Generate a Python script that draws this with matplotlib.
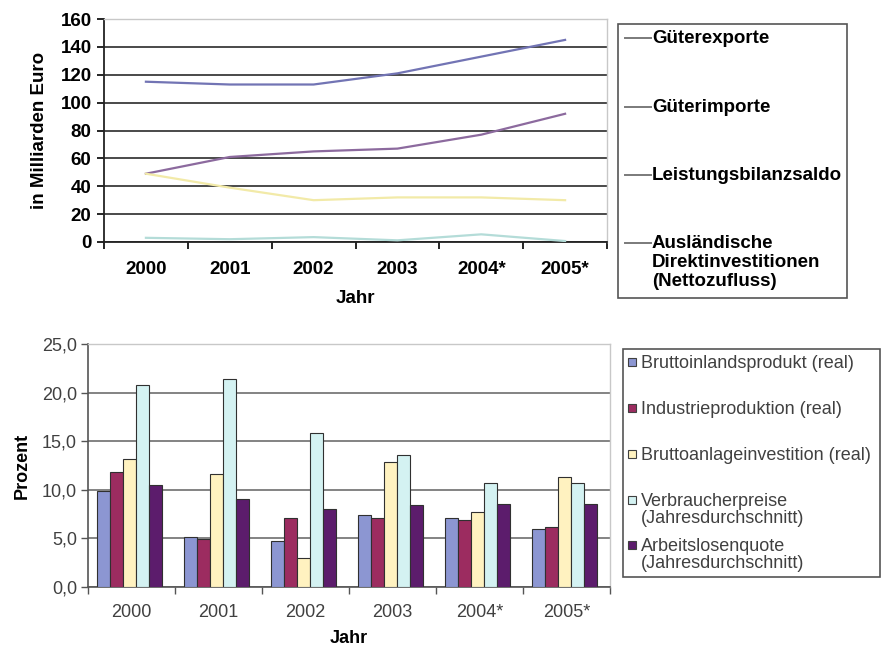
import numpy as np
import matplotlib

matplotlib.use('Agg')
import matplotlib.pyplot as plt
from matplotlib.lines import Line2D
from matplotlib.patches import Rectangle

plt.rcParams['font.family'] = ['Liberation Sans', 'DejaVu Sans']

W, H = 881, 648

years = ['2000', '2001', '2002', '2003', '2004*', '2005*']

# Upper chart, billions of euro
line_labels = ['Güterexporte', 'Güterimporte', 'Leistungsbilanzsaldo',
               'Ausländische\nDirektinvestitionen\n(Nettozufluss)']
gueterexporte = [115, 113, 113, 121, 133, 145]
gueterimporte = [49, 61, 65, 67, 77, 92]
leistungsbilanz = [49, 39, 30, 32, 32, 30]
direktinvest = [3, 2, 3.5, 1.2, 5.5, 0.7]
line_colors = ['#7274b4', '#8c6a9e', '#f2eaa8', '#b4dcd8']

# Lower chart, percent
bar_labels = ['Bruttoinlandsprodukt (real)', 'Industrieproduktion (real)',
              'Bruttoanlageinvestition (real)',
              'Verbraucherpreise\n(Jahresdurchschnitt)',
              'Arbeitslosenquote\n(Jahresdurchschnitt)']
bip = [9.9, 5.1, 4.7, 7.4, 7.1, 6.0]
industrie = [11.8, 4.9, 7.1, 7.1, 6.9, 6.2]
bruttoanlage = [13.2, 11.6, 3.0, 12.9, 7.7, 11.3]
verbraucher = [20.8, 21.4, 15.8, 13.6, 10.7, 10.7]
arbeitslosen = [10.5, 9.1, 8.0, 8.4, 8.5, 8.5]
bar_colors = ['#8c96d2', '#9c2c60', '#fff2c0', '#d4f2f2', '#5c1c6c']

FS_TOP = 13.5
FS_BOT = 13


def fx(px):
    return px / W


def fy(py):
    return 1 - py / H


fig = plt.figure(figsize=(W / 100, H / 100), dpi=100, facecolor='w')
x = np.arange(len(years))

# ---- line chart ----
ax1 = fig.add_axes([fx(104), fy(242), (607 - 104) / W, (242 - 19) / H])
series = [gueterexporte, gueterimporte, leistungsbilanz, direktinvest]
for vals, c in zip(series, line_colors):
    ax1.plot(x, vals, color=c, lw=1.6, zorder=3)

ax1.set_xlim(-0.5, 5.5)
ax1.set_ylim(0, 160)
ax1.set_yticks(range(0, 161, 20))
ax1.set_xticks(x)
ax1.set_xticklabels(years)
ax1.set_xticks(np.arange(-0.5, 6, 1), minor=True)
ax1.tick_params(axis='x', which='major', length=0, pad=14, labelsize=FS_TOP)
ax1.tick_params(axis='x', which='minor', length=5, width=1.2, direction='out')
ax1.tick_params(axis='y', length=5, width=1.2, labelsize=FS_TOP, pad=4)
for lab in ax1.get_xticklabels() + ax1.get_yticklabels():
    lab.set_fontweight('bold')
ax1.yaxis.grid(True, color='#4a4a4a', lw=1.4)
ax1.set_axisbelow(True)
for s in ['top', 'right']:
    ax1.spines[s].set_color('#c8c8c8')
    ax1.spines[s].set_linewidth(1.0)
for s in ['left', 'bottom']:
    ax1.spines[s].set_color('#222222')
    ax1.spines[s].set_linewidth(1.3)
ax1.set_xlabel('Jahr', fontsize=FS_TOP, fontweight='bold', labelpad=8)
ax1.set_ylabel('in Milliarden Euro', fontsize=FS_TOP, fontweight='bold', labelpad=9)

# legend of the line chart
fig.patches.append(Rectangle((fx(618), fy(298)), (847 - 618) / W, (298 - 24) / H,
                             transform=fig.transFigure, fill=False,
                             edgecolor='#555555', lw=1.2))
for lab, c, py in zip(line_labels, line_colors, [38, 107, 175, 243]):
    fig.lines.append(Line2D([fx(625), fx(651)], [fy(py), fy(py)],
                            transform=fig.transFigure, color='#7a7a7a', lw=1.4))
    fig.text(fx(652), fy(py - 8), lab, fontsize=FS_TOP, fontweight='bold',
             va='top', ha='left', linespacing=1.15)

# ---- bar chart ----
ax2 = fig.add_axes([fx(88), fy(587), (610 - 88) / W, (587 - 344) / H])
bars = [bip, industrie, bruttoanlage, verbraucher, arbeitslosen]
bw = 0.15
for i, (vals, c) in enumerate(zip(bars, bar_colors)):
    ax2.bar(x + (i - 2) * bw - 0.02, vals, width=bw, color=c,
            edgecolor='#303030', lw=0.8, zorder=3)

ax2.set_xlim(-0.5, 5.5)
ax2.set_ylim(0, 25)
yt = np.arange(0, 26, 5)
ax2.set_yticks(yt)
ax2.set_yticklabels([('%.1f' % v).replace('.', ',') for v in yt])
ax2.set_xticks(x)
ax2.set_xticklabels(years)
ax2.set_xticks(np.arange(-0.5, 6, 1), minor=True)
ax2.tick_params(axis='x', which='major', length=0, pad=12, labelsize=FS_BOT,
                labelcolor='#404040')
ax2.tick_params(axis='x', which='minor', length=5, width=1.0, color='#555555')
ax2.tick_params(axis='y', length=5, width=1.0, color='#555555', labelsize=FS_BOT,
                labelcolor='#404040', pad=3)
ax2.yaxis.grid(True, color='#7a7a7a', lw=1.3)
ax2.set_axisbelow(True)
for s in ['top', 'right']:
    ax2.spines[s].set_color('#c8c8c8')
    ax2.spines[s].set_linewidth(1.0)
for s in ['left', 'bottom']:
    ax2.spines[s].set_color('#555555')
    ax2.spines[s].set_linewidth(1.2)
ax2.set_xlabel('Jahr', fontsize=FS_BOT, fontweight='bold', labelpad=7)
ax2.set_ylabel('Prozent', fontsize=FS_BOT, fontweight='bold', labelpad=8)

# legend of the bar chart
fig.patches.append(Rectangle((fx(623), fy(577)), (880 - 623) / W, (577 - 349) / H,
                             transform=fig.transFigure, fill=False,
                             edgecolor='#555555', lw=1.2))
for lab, c, py in zip(bar_labels, bar_colors, [362, 408, 454, 500, 545]):
    fig.patches.append(Rectangle((fx(628), fy(py + 4)), 8 / W, 8 / H,
                                 transform=fig.transFigure, facecolor=c,
                                 edgecolor='#404040', lw=0.8))
    fig.text(fx(641), fy(py - 7), lab, fontsize=FS_BOT, color='#404040',
             va='top', ha='left', linespacing=1.0)

fig.savefig('out.png', dpi=100)
plt.close(fig)
